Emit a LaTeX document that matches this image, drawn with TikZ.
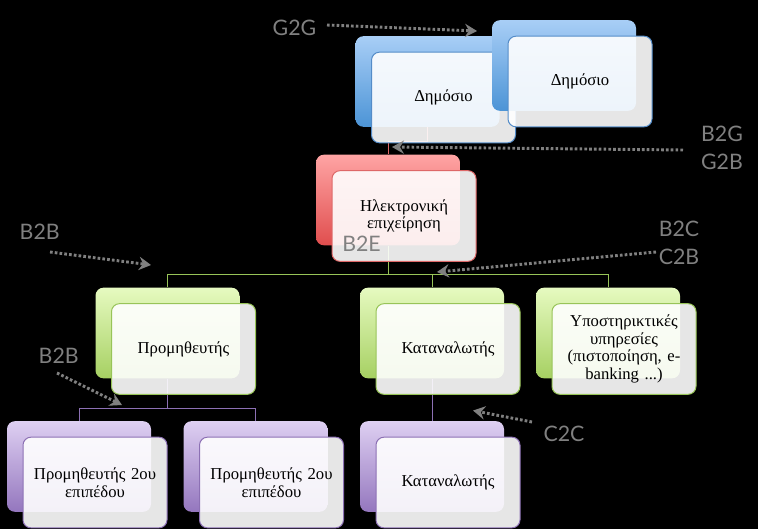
\documentclass[tikz,border=0pt]{standalone}
\usepackage{fontspec}
\setmainfont{Liberation Serif}
\newfontfamily\lblfont{Lato}
\usetikzlibrary{arrows.meta}
\definecolor{blutop}{RGB}{168,206,246}
\definecolor{blubot}{RGB}{76,148,214}
\definecolor{bluline}{RGB}{84,140,200}
\definecolor{redtop}{RGB}{255,164,164}
\definecolor{redbot}{RGB}{224,78,78}
\definecolor{redline}{RGB}{222,104,104}
\definecolor{grntop}{RGB}{230,250,192}
\definecolor{grnbot}{RGB}{166,208,98}
\definecolor{grnline}{RGB}{152,196,88}
\definecolor{purtop}{RGB}{222,208,242}
\definecolor{purbot}{RGB}{148,118,190}
\definecolor{purline}{RGB}{140,112,180}
\definecolor{lblgray}{RGB}{128,128,128}
\pgfdeclarelayer{bg}
\pgfsetlayers{bg,main}
\tikzset{
  back/.style = {rounded corners = 6pt, minimum width = 108pt, minimum height = 68pt, inner sep = 0},
  front/.style = {back, fill = white, fill opacity = 0.9, text opacity = 1, line width = 0.75pt,
    text width = 100pt, align = center, font = \fontsize{12.5}{13.3}\selectfont},
  backblu/.style = {top color = blutop, bottom color = blubot},
  backred/.style = {top color = redtop, bottom color = redbot},
  backgrn/.style = {top color = grntop, bottom color = grnbot},
  backpur/.style = {top color = purtop, bottom color = purbot},
  frontblu/.style = {draw = bluline},
  frontred/.style = {draw = redline},
  frontgrn/.style = {draw = grnline},
  frontpur/.style = {draw = purline},
  link/.style = {line width = 0.75pt},
  hint/.style = {draw = lblgray, line width = 2.2pt, dash pattern = on 2pt off 1.6pt,
    -{Stealth[length = 9pt, width = 10pt, inset = 3pt]}},
  lbl/.style = {text = lblgray, font = \lblfont\fontsize{16}{21}\selectfont, inner sep = 0, align = left}
}
\begin{document}
\begin{tikzpicture}[x = 0.75pt, y = -0.75pt]
  \begin{pgfonlayer}{bg}
    \fill [black] (0, 0) rectangle (758, 529);
  \end{pgfonlayer}

  \foreach \n/\x/\y/\c/\t in {
      dimA/427.5/81.5/blu/{Δημόσιο},
      dimB/564/65.5/blu/{Δημόσιο},
      ilek/388/200/red/{Ηλεκτρονική\\επιχείρηση},
      prom/167.5/333/grn/{Προμηθευτής},
      kat/432/333/grn/{Καταναλωτής},
      ypo/608/333/grn/{Υποστηρικτικές\\υπηρεσίες\\(πιστοποίηση, e-\\banking ...)},
      promA/79/466.5/pur/{Προμηθευτής 2ου\\επιπέδου},
      promB/255.5/466.5/pur/{Προμηθευτής 2ου\\επιπέδου},
      katB/432/466.5/pur/{Καταναλωτής}} {
    \node [back, back\c] (\n) at (\x, \y) {};
    \node [front, front\c] (\n f) at (\x + 16, \y + 16) {\t};
  }

  \begin{pgfonlayer}{bg}
    \draw [link, redline] (dimA.south) -- ++(0, 14) -| (ilek.north);
    \draw [link, grnline] (ilek.south) -- ++(0, 29) -| (prom.north);
    \draw [link, grnline] (ilek.south) -- ++(0, 29) -| (kat.north);
    \draw [link, grnline] (ilek.south) -- ++(0, 29) -| (ypo.north);
    \draw [link, purline] (prom.south) -- ++(0, 30) -| (promA.north);
    \draw [link, purline] (prom.south) -- ++(0, 30) -| (promB.north);
    \draw [link, purline] (kat.south) -- (katB.north);
  \end{pgfonlayer}

  \coordinate (g2gfrom) at (327, 25);
  \coordinate (g2gtip) at (477, 31);
  \coordinate (b2gfrom) at (683, 150);
  \coordinate (b2gtip) at (392, 147);
  \coordinate (b2cfrom) at (656, 252);
  \coordinate (b2ctip) at (437, 272);
  \coordinate (b2bAfrom) at (50, 252);
  \coordinate (b2bAtip) at (151, 265);
  \coordinate (b2bBfrom) at (57, 373);
  \coordinate (b2bBtip) at (122, 405);
  \coordinate (c2cfrom) at (532, 422);
  \coordinate (c2ctip) at (473, 410.5);

  \draw [hint] (g2gfrom) -- (g2gtip);
  \draw [hint] (b2gfrom) -- (b2gtip);
  \draw [hint] (b2cfrom) -- (b2ctip);
  \draw [hint] (b2bAfrom) -- (b2bAtip);
  \draw [hint] (b2bBfrom) -- (b2bBtip);
  \draw [hint] (c2cfrom) -- (c2ctip);

  \node [lbl] (g2g) at (294.5, 28) {G2G};
  \node [lbl] (b2g) at (722, 148) {B2G\\G2B};
  \node [lbl] (b2e) at (361.5, 244) {B2E};
  \node [lbl] (b2c) at (679, 243) {B2C\\C2B};
  \node [lbl] (b2bA) at (39.7, 232) {B2B};
  \node [lbl] (b2bB) at (58.7, 355.3) {B2B};
  \node [lbl] (c2c) at (564, 434) {C2C};
\end{tikzpicture}
\end{document}
